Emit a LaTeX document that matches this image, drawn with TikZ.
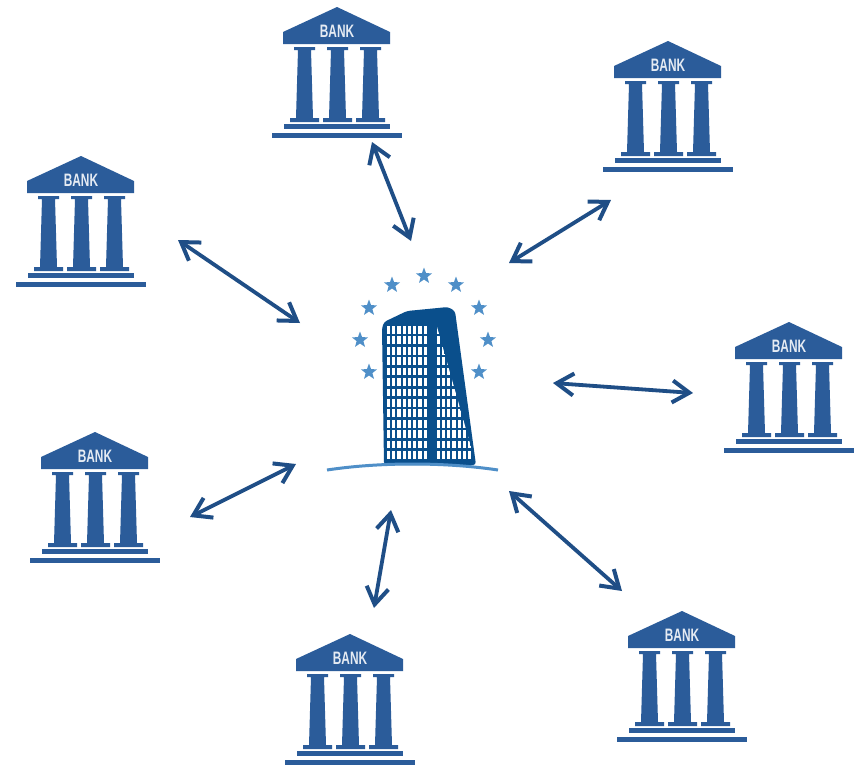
\documentclass[tikz,border=0pt]{standalone}
\usepackage{fontspec}
\setmainfont{Liberation Sans}
\usetikzlibrary{arrows.meta,shapes.geometric}
\definecolor{bankblue}{HTML}{2B5C9A}
\definecolor{arrowblue}{HTML}{1F4E86}
\definecolor{towerblue}{HTML}{0A4F8C}
\definecolor{starblue}{HTML}{4F8FC8}
\tikzset{
  x=1pt,y=-1pt,
  barbtip/.tip={Straight Barb[length=17pt,width=22pt,line width=4pt]},
  link/.style={draw=arrowblue,line width=3.8pt,barbtip-barbtip},
  eustar/.style={star,star points=5,star point ratio=2.4,fill=starblue,inner sep=0pt,minimum size=17pt},
  banklabel/.style={text=white!88!bankblue,font=\bfseries\fontsize{18}{18}\selectfont,inner sep=0pt},
  column/.pic={
    \fill[bankblue] (-10,40) -- (11,40) -- (11,43) -- (7,43) -- (9,111) -- (15,111) -- (15,115) -- (-14,115) -- (-14,111) -- (-8,111) -- (-6,43) -- (-10,43) -- cycle;
  },
  bank/.pic={
    \fill[bankblue] (0,0) -- (53,25) -- (53,37) -- (-54,37) -- (-54,25) -- cycle;
    \node[banklabel] (-label) at (0,24) {\scalebox{.66}[1]{BANK}};
    \pic at (-33,0) {column};
    \pic at (0,0) {column};
    \pic at (33,0) {column};
    \fill[bankblue] (-53,117) rectangle (53,122);
    \fill[bankblue] (-65,126) rectangle (65,131);
  }
}
\begin{document}
\begin{tikzpicture}
\useasboundingbox (0,0) rectangle (859,766);
\fill[white] (0,0) rectangle (859,766);
% banks
\pic (bn) at (337,7) {bank};
\pic (bne) at (668,41) {bank};
\pic (bnw) at (81,156) {bank};
\pic (be) at (789,322) {bank};
\pic (bw) at (95,432) {bank};
\pic (bs) at (350,634) {bank};
\pic (bse) at (682,611) {bank};
% stars
\node[eustar] (s1) at (424,276) {};
\node[eustar] (s2) at (392,285) {};
\node[eustar] (s3) at (456,285) {};
\node[eustar] (s4) at (369,308) {};
\node[eustar] (s5) at (479,308) {};
\node[eustar] (s6) at (360,340) {};
\node[eustar] (s7) at (488,340) {};
\node[eustar] (s8) at (369,372) {};
\node[eustar] (s9) at (479,372) {};
% tower
\fill[towerblue,rounded corners=3pt] (382,328) -- (384,322) -- (407,311) -- (448,307) -- (455,311) -- (476,465) -- (384,465) -- cycle;
\foreach \c in {0,...,7}{
  \foreach \r in {0,...,12}{
    \fill[white] ({386.8+\c*5.25},{326+\r*10.42}) rectangle +(3.2,7.8);
  }
}
\begin{scope}
\clip (436.5,325) -- (475,461) -- (436.5,461) -- cycle;
\foreach \c in {0,...,6}{
  \foreach \r in {0,...,12}{
    \fill[white] ({436.7+\c*5.25},{326+\r*10.42}) rectangle +(3.2,7.8);
  }
}
\end{scope}
\draw[starblue,line width=3pt] (327,470) .. controls (380,462) and (445,462) .. (498,470);
% arrow ends
\coordinate (a1) at (372,142); \coordinate (a2) at (411,241);
\coordinate (b1) at (509,263); \coordinate (b2) at (611,200);
\coordinate (c1) at (178,240); \coordinate (c2) at (300,323);
\coordinate (d1) at (553,383); \coordinate (d2) at (693,393);
\coordinate (e1) at (190,517); \coordinate (e2) at (296,464);
\coordinate (f1) at (391,510); \coordinate (f2) at (374,608);
\coordinate (g1) at (509,491); \coordinate (g2) at (622,591);
\draw[link] (a1) -- (a2);
\draw[link] (b1) -- (b2);
\draw[link] (c1) -- (c2);
\draw[link] (d1) -- (d2);
\draw[link] (e1) -- (e2);
\draw[link] (f1) -- (f2);
\draw[link] (g1) -- (g2);
\end{tikzpicture}
\end{document}
